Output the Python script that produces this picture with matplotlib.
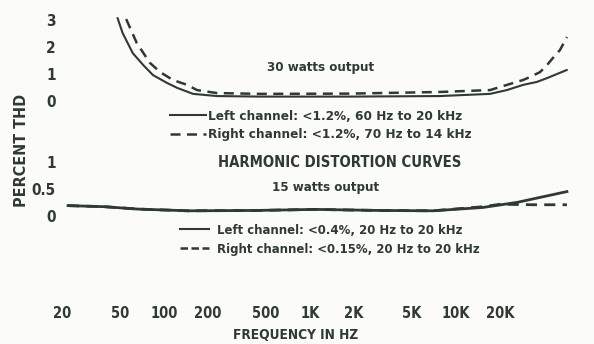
import matplotlib
matplotlib.use("Agg")
import matplotlib.pyplot as plt
from matplotlib.lines import Line2D

# ---- data -------------------------------------------------------------
tick_freqs = [20, 50, 100, 200, 500, 1000, 2000, 5000, 10000, 20000]
tick_labels = ["20", "50", "100", "200", "500", "1K", "2K", "5K", "10K", "20K"]

# 30 watts output
left30_f = [48, 52, 61, 72, 84, 105, 123, 158, 230, 454, 1880, 7760, 17100,
            22300, 28800, 35800, 42000, 57500]
left30_thd = [3.07, 2.52, 1.78, 1.34, 0.97, 0.68, 0.50, 0.28, 0.20, 0.18, 0.18,
              0.20, 0.28, 0.42, 0.61, 0.72, 0.86, 1.16]
right30_f = [55, 65, 80, 94, 115, 144, 168, 230, 454, 1880, 7760, 17100, 22300,
             28800, 32100, 37600, 42000, 46100, 51500, 57500]
right30_thd = [3.03, 2.15, 1.42, 1.08, 0.79, 0.61, 0.42, 0.31, 0.28, 0.29, 0.35,
               0.42, 0.61, 0.79, 0.90, 1.08, 1.34, 1.60, 1.89, 2.37]

# 15 watts output
left15_f = [22, 39, 66, 146, 420, 1080, 3000, 6950, 15300, 26200, 57500]
left15_thd = [0.19, 0.17, 0.126, 0.094, 0.10, 0.12, 0.10, 0.094, 0.156, 0.25, 0.45]
right15_f = [22, 39, 66, 146, 420, 1080, 3000, 6950, 15300, 20000, 33600, 57500]
right15_thd = [0.19, 0.17, 0.126, 0.094, 0.10, 0.12, 0.10, 0.094, 0.17, 0.215, 0.206, 0.206]

legend30 = ["Left channel: <1.2%, 60 Hz to 20 kHz",
            "Right channel: <1.2%, 70 Hz to 14 kHz"]
legend15 = ["Left channel: <0.4%, 20 Hz to 20 kHz",
            "Right channel: <0.15%, 20 Hz to 20 kHz"]

# ---- style ------------------------------------------------------------
INK = "#2e3a32"
BG = "#fbfbf8"
plt.rcParams["font.family"] = ["DejaVu Sans"]
plt.rcParams["font.stretch"] = "condensed"
plt.rcParams["font.weight"] = "bold"
plt.rcParams["text.color"] = INK

W, H = 594, 344
fig = plt.figure(figsize=(W / 100, H / 100), dpi=100, facecolor=BG)


def box(x0, y0, x1, y1):
    """pixel box (top-left origin) -> figure fraction rect"""
    return [x0 / W, 1 - y1 / H, (x1 - x0) / W, (y1 - y0) / H]


XLIM = (19.37, 65300)

ax1 = fig.add_axes(box(60, 10, 575, 105))
ax2 = fig.add_axes(box(60, 150, 575, 302))
for ax in (ax1, ax2):
    ax.set_facecolor("none")
    ax.set_xscale("log")
    ax.set_xlim(*XLIM)
    for s in ax.spines.values():
        s.set_visible(False)
    ax.set_xticks(tick_freqs)
    ax.minorticks_off()
    ax.tick_params(length=0, colors=INK, labelsize=10.5, pad=3)

ax1.set_xticklabels([])
ax2.set_xticklabels(tick_labels)

ax1.set_ylim(-0.129, 3.364)
ax1.set_yticks([0, 1, 2, 3])
ax1.set_yticklabels(["0", "1", "2", "3"])
ax2.set_ylim(-1.595, 1.22)
ax2.set_yticks([0, 0.5, 1])
ax2.set_yticklabels(["0", "0.5", "1"])
ax1.tick_params(axis="y", labelsize=11)
ax2.tick_params(axis="y", labelsize=11)

dash = (0, (4, 2.6))
ax1.plot(left30_f, left30_thd, color=INK, lw=1.5, solid_capstyle="round")
ax1.plot(right30_f, right30_thd, color=INK, lw=1.8, linestyle=dash)
ax2.plot(left15_f, left15_thd, color=INK, lw=2.0)
ax2.plot(right15_f, right15_thd, color=INK, lw=2.0, linestyle=dash)

leg_kw = dict(frameon=False, prop={"size": 9.7, "weight": "bold", "stretch": "condensed"},
              labelcolor=INK, borderpad=0, borderaxespad=0, labelspacing=0.4,
              loc="upper left")
fig.legend([Line2D([], [], color=INK, lw=1.5),
            Line2D([], [], color=INK, lw=1.8, linestyle=dash)],
           legend30, handlelength=2.65, handletextpad=0.15,
           bbox_to_anchor=(170 / W, 1 - 110 / H), **leg_kw)
fig.legend([Line2D([], [], color=INK, lw=1.5),
            Line2D([], [], color=INK, lw=1.8, linestyle=(0, (3, 1.4)))],
           legend15, prop={"size": 9.4, "weight": "bold", "stretch": "condensed"},
           handlelength=2.25, handletextpad=0.6, frameon=False, labelcolor=INK,
           borderpad=0, borderaxespad=0, labelspacing=0.45, loc="upper left",
           bbox_to_anchor=(180 / W, 1 - 224 / H))


def ftext(x, y, s, **kw):
    fig.text(x / W, 1 - y / H, s, ha="center", va="center", color=INK, **kw)


ftext(321, 67, "30 watts output", fontsize=9.5)
ftext(340, 163, "HARMONIC DISTORTION CURVES", fontsize=10.6)
ftext(326, 187, "15 watts output", fontsize=9.5)
ftext(296, 335, "FREQUENCY IN HZ", fontsize=9.8)
ftext(22, 150, "PERCENT THD", fontsize=11.5, rotation=90)

fig.savefig("out.png", dpi=100, facecolor=BG)
